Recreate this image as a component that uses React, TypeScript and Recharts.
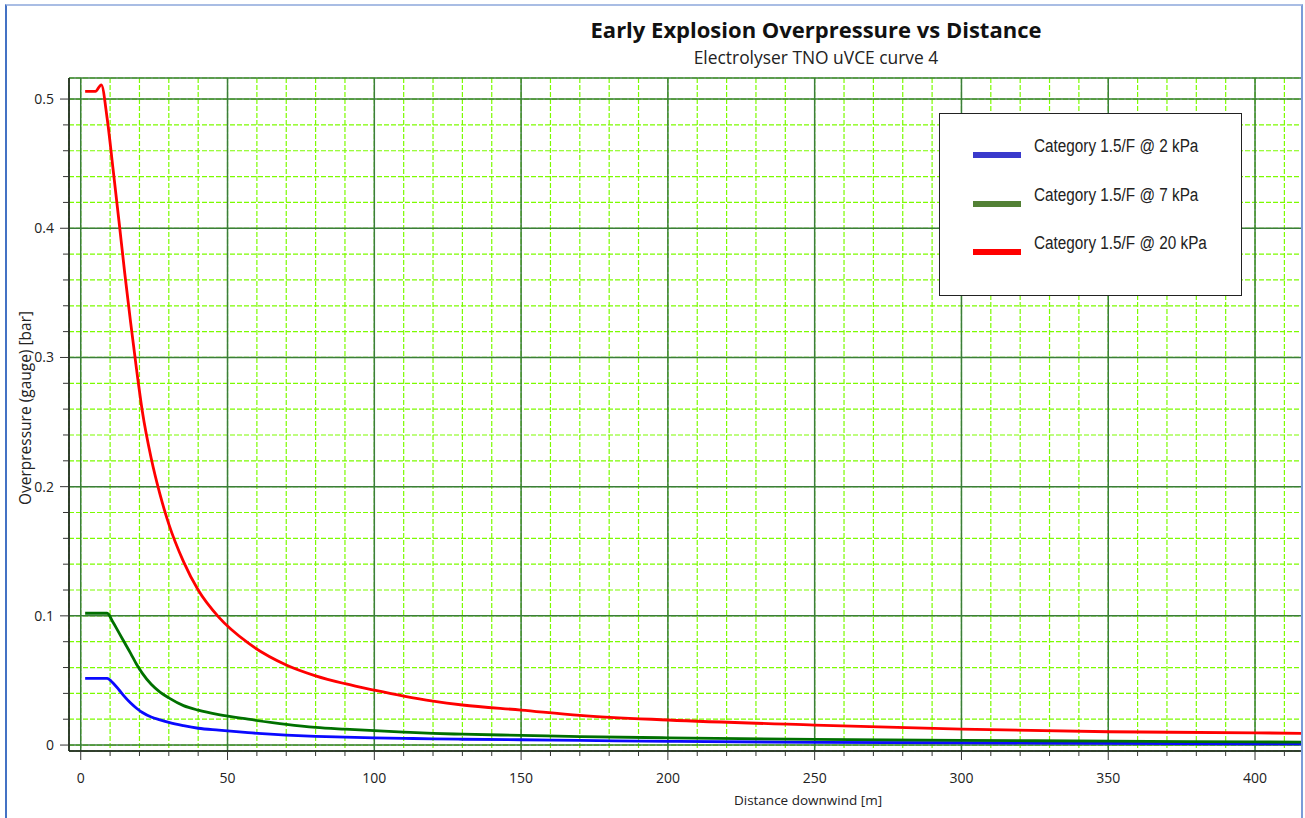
import { CartesianGrid, Legend, Line, LineChart, XAxis, YAxis } from "recharts";

// distance downwind [m], shared by the three curves
const DISTANCE = [
  1.5, 5, 7, 9, 11, 13, 15, 17, 19, 21, 24, 27, 30, 35, 40, 47, 57, 70, 80, 90, 100, 110, 120, 130,
  150, 170, 200, 250, 300, 350, 400, 416,
];

// overpressure [bar]
const CAT_2KPA = [
  0.0516, 0.0516, 0.0516, 0.0516, 0.048, 0.0428, 0.0373, 0.0325, 0.0285, 0.0252, 0.0217, 0.0195, 0.0175,
  0.015, 0.013, 0.0115, 0.0096, 0.0077, 0.0067, 0.0061, 0.0056, 0.0052, 0.0048, 0.0045, 0.0041,
  0.0036, 0.0029, 0.0021, 0.0018, 0.0013, 0.001, 0.001,
];
const CAT_7KPA = [
  0.102, 0.102, 0.102, 0.102, 0.095, 0.087, 0.079, 0.071, 0.0625, 0.0555, 0.047, 0.041, 0.0365, 0.0305,
  0.027, 0.0235, 0.02, 0.016, 0.0137, 0.0123, 0.0111, 0.01, 0.009, 0.0084, 0.0075, 0.0065, 0.0056,
  0.0044, 0.0036, 0.0031, 0.0024, 0.0023,
];
const CAT_20KPA = [
  0.506, 0.506, 0.511, 0.485, 0.446, 0.406, 0.365, 0.327, 0.291, 0.258, 0.222, 0.194, 0.171, 0.142,
  0.12, 0.099, 0.079, 0.062, 0.0536, 0.0475, 0.0425, 0.0379, 0.034, 0.031, 0.0271, 0.023, 0.0194,
  0.0155, 0.0124, 0.0103, 0.0095, 0.009,
];

const X_MAJOR = [0, 50, 100, 150, 200, 250, 300, 350, 400];
const X_MINOR = [
  0, 10, 20, 30, 40, 50, 60, 70, 80, 90, 100, 110, 120, 130, 140, 150, 160, 170, 180, 190, 200, 210,
  220, 230, 240, 250, 260, 270, 280, 290, 300, 310, 320, 330, 340, 350, 360, 370, 380, 390, 400, 410,
];
const Y_MAJOR = [0, 0.1, 0.2, 0.3, 0.4, 0.5];
const Y_MINOR = [
  0, 0.02, 0.04, 0.06, 0.08, 0.1, 0.12, 0.14, 0.16, 0.18, 0.2, 0.22, 0.24, 0.26, 0.28, 0.3, 0.32,
  0.34, 0.36, 0.38, 0.4, 0.42, 0.44, 0.46, 0.48, 0.5,
];

const X_DOMAIN = [-4, 416];
const Y_DOMAIN = [-0.0046, 0.5163];

const SERIES = [
  { key: "c2", name: "Category 1.5/F @ 2 kPa", values: CAT_2KPA, stroke: "#0a0aff", swatch: "#3a3acc" },
  { key: "c7", name: "Category 1.5/F @ 7 kPa", values: CAT_7KPA, stroke: "#007000", swatch: "#538135" },
  { key: "c20", name: "Category 1.5/F @ 20 kPa", values: CAT_20KPA, stroke: "#ff0000", swatch: "#ff0000" },
];

const FONT = "'Open Sans', 'Noto Sans', sans-serif";

function XTick({ x, y, payload }: any) {
  const v = payload.value;
  const major = v % 50 === 0;
  return (
    <g>
      <line x1={x} x2={x} y1={y} y2={y + (major ? 9 : 5)} stroke="#333" />
      {major && (
        <text x={x} y={y + 32} textAnchor="middle" fontSize={14} fill="#222" fontFamily={FONT}>
          {v}
        </text>
      )}
    </g>
  );
}

function YTick({ x, y, payload }: any) {
  const v = payload.value;
  const major = Math.abs(v * 10 - Math.round(v * 10)) < 1e-6;
  return (
    <g>
      <line x1={x - (major ? 9 : 6)} x2={x} y1={y} y2={y} stroke="#333" />
      {major && (
        <text x={x - 15} y={y + 5} textAnchor="end" fontSize={14} fill="#222" fontFamily={FONT}>
          {v}
        </text>
      )}
    </g>
  );
}

function LegendBox() {
  return (
    <div
      style={{
        boxSizing: "border-box",
        width: 303,
        height: 183,
        border: "1.5px solid #222",
        background: "#fff",
        position: "relative",
      }}
    >
      {SERIES.map((s, i) => (
        <div key={s.key}>
          <div
            style={{
              position: "absolute",
              left: 33,
              top: 38 + i * 48.5,
              width: 48,
              height: 6,
              background: s.swatch,
            }}
          />
          <div
            style={{
              position: "absolute",
              left: 94,
              top: 23 + i * 48.5,
              fontFamily: "'Liberation Sans', Arial, sans-serif",
              fontSize: 18,
              lineHeight: "18px",
              color: "#222",
              whiteSpace: "nowrap",
              transform: "scaleX(0.85)",
              transformOrigin: "left center",
            }}
          >
            {s.name}
          </div>
        </div>
      ))}
    </div>
  );
}

export default function App() {
  return (
    <div style={{ position: "absolute", left: 0, top: 0, width: 1305, height: 818, background: "#fff", overflow: "hidden" }}>
      <LineChart width={1305} height={818} margin={{ top: 78, right: 3, bottom: 27, left: 0 }}>
        <CartesianGrid xAxisId="minor" yAxisId="minor" stroke="#7cfc00" strokeDasharray="5 2" strokeWidth={1.2} />
        <CartesianGrid xAxisId="major" yAxisId="major" stroke="#3b7d3b" strokeWidth={1.5} />
        <XAxis
          xAxisId="minor"
          type="number"
          dataKey="x"
          domain={X_DOMAIN}
          allowDataOverflow
          ticks={X_MINOR}
          interval={0}
          tickSize={0}
          tickMargin={0}
          tickLine={false}
          tick={<XTick />}
          height={40}
          axisLine={{ stroke: "#222", strokeWidth: 1.5 }}
        />
        <XAxis xAxisId="major" type="number" dataKey="x" domain={X_DOMAIN} allowDataOverflow ticks={X_MAJOR} height={0} hide />
        <XAxis
          xAxisId="top"
          orientation="top"
          type="number"
          dataKey="x"
          domain={X_DOMAIN}
          allowDataOverflow
          height={0}
          tick={false}
          tickLine={false}
          axisLine={{ stroke: "#222", strokeWidth: 1.5 }}
        />
        <YAxis
          yAxisId="minor"
          type="number"
          domain={Y_DOMAIN}
          allowDataOverflow
          ticks={Y_MINOR}
          interval={0}
          tickSize={0}
          tickMargin={0}
          tickLine={false}
          tick={<YTick />}
          width={69}
          axisLine={{ stroke: "#222", strokeWidth: 1.5 }}
        />
        <YAxis yAxisId="major" type="number" domain={Y_DOMAIN} allowDataOverflow ticks={Y_MAJOR} width={0} hide />
        <Legend
          layout="vertical"
          align="center"
          verticalAlign="middle"
          wrapperStyle={{ left: 939, top: 113, width: 303, height: 183 }}
          content={() => <LegendBox />}
        />
        {SERIES.map((s) => (
          <Line
            key={s.key}
            xAxisId="major"
            yAxisId="major"
            data={DISTANCE.map((x, i) => ({ x, y: s.values[i] }))}
            dataKey="y"
            name={s.name}
            type="monotone"
            stroke={s.stroke}
            strokeWidth={2.8}
            dot={false}
            isAnimationActive={false}
          />
        ))}
      </LineChart>

      <div style={{ position: "absolute", left: 416, width: 800, top: 14, textAlign: "center", fontFamily: FONT, fontWeight: 700, fontSize: 22, color: "#111", lineHeight: "30px" }}>
        Early Explosion Overpressure vs Distance
      </div>
      <div style={{ position: "absolute", left: 516, width: 600, top: 46, textAlign: "center", fontFamily: FONT, fontSize: 17.4, color: "#222", lineHeight: "22px" }}>
        Electrolyser TNO uVCE curve 4
      </div>
      <div style={{ position: "absolute", left: 608, width: 400, top: 790, textAlign: "center", fontFamily: FONT, fontSize: 13.5, color: "#222", lineHeight: "20px" }}>
        Distance downwind [m]
      </div>
      <div
        style={{
          position: "absolute",
          left: 25,
          top: 408,
          transform: "translate(-50%, -50%) rotate(-90deg)",
          whiteSpace: "nowrap",
          fontFamily: FONT,
          fontSize: 15.5,
          color: "#222",
          lineHeight: "20px",
        }}
      >
        Overpressure (gauge) [bar]
      </div>

      <div
        style={{
          position: "absolute",
          left: 5,
          top: 4,
          width: 1298,
          height: 830,
          boxSizing: "border-box",
          borderLeft: "2px solid #4472c4",
          borderTop: "2px solid #a9bde4",
          borderRight: "2px solid #7b9bd8",
          pointerEvents: "none",
        }}
      />
    </div>
  );
}
